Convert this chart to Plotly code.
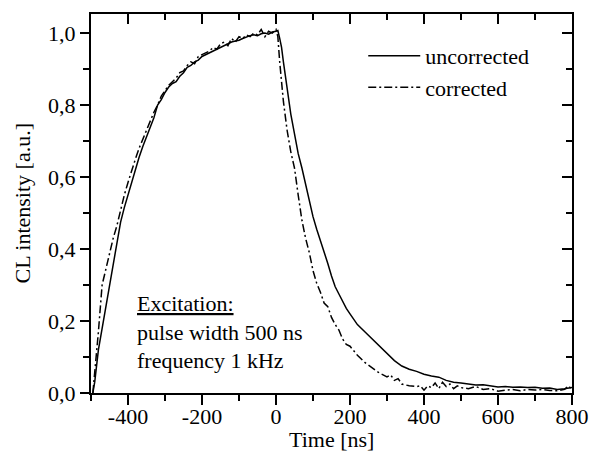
import plotly.graph_objects as go

# ---- data ----
t_unc = [-495, -490, -480, -470, -460, -450, -440, -430, -420, -410, -400, -390, -380, -370,
         -360, -350, -340, -330, -320, -310, -300, -290, -280, -270, -260, -250, -240, -230,
         -220, -210, -200, -190, -180, -170, -160, -150, -140, -130, -120, -110, -100, -90,
         -80, -70, -60, -50, -40, -30, -20, -10, 0, 5, 10, 15, 20, 30, 40, 50, 60, 70, 80, 90,
         100, 110, 120, 130, 140, 150, 160, 170, 180, 190, 200, 220, 240, 260, 280, 300, 320,
         340, 360, 380, 400, 420, 440, 460, 480, 500, 520, 540, 560, 580, 600, 620, 640, 660,
         680, 700, 720, 740, 760, 780, 800]
i_unc = [0.0, 0.03, 0.12, 0.18, 0.235, 0.30, 0.36, 0.42, 0.475, 0.515, 0.55, 0.59, 0.625, 0.655,
         0.685, 0.71, 0.74, 0.765, 0.80, 0.815, 0.835, 0.85, 0.86, 0.865, 0.88, 0.89, 0.905, 0.91,
         0.92, 0.925, 0.935, 0.94, 0.945, 0.952, 0.955, 0.962, 0.965, 0.97, 0.975, 0.978, 0.98, 0.985,
         0.99, 0.993, 0.995, 0.993, 0.998, 1.0, 0.997, 1.003, 1.005, 1.007, 0.985, 0.96, 0.92, 0.84,
         0.775, 0.72, 0.665, 0.625, 0.58, 0.54, 0.49, 0.455, 0.425, 0.39, 0.36, 0.325, 0.295, 0.275,
         0.255, 0.235, 0.22, 0.19, 0.17, 0.15, 0.128, 0.108, 0.09, 0.075, 0.066, 0.06, 0.052, 0.047,
         0.044, 0.035, 0.03, 0.028, 0.025, 0.022, 0.023, 0.02, 0.017, 0.018, 0.016, 0.017, 0.015,
         0.016, 0.013, 0.014, 0.01, 0.012, 0.015]

t_cor = [-495, -490, -480, -470, -460, -450, -440, -430, -420, -410, -400, -390, -380, -370,
         -360, -350, -340, -330, -320, -310, -300, -290, -280, -270, -260, -250, -240, -230,
         -220, -210, -200, -190, -180, -170, -160, -150, -140, -130, -120, -110, -100, -90,
         -80, -70, -60, -50, -40, -30, -20, -10, 0, 5, 10, 20, 30, 40, 50, 60, 70, 80, 90, 100,
         110, 120, 130, 140, 150, 160, 170, 180, 190, 200, 220, 240, 260, 280, 300, 310, 320, 330,
         340, 360, 380, 390, 400, 410, 420, 430, 440, 450, 460, 470, 480, 490, 500, 520, 540, 560,
         580, 600, 620, 640, 660, 680, 700, 720, 740, 760, 780, 790, 800]
i_cor = [0.0, 0.05, 0.17, 0.30, 0.345, 0.39, 0.43, 0.465, 0.51, 0.55, 0.585, 0.62, 0.65, 0.68,
         0.705, 0.735, 0.76, 0.78, 0.80, 0.825, 0.84, 0.855, 0.865, 0.875, 0.89, 0.895, 0.91, 0.92,
         0.915, 0.935, 0.94, 0.945, 0.95, 0.96, 0.955, 0.97, 0.975, 0.965, 0.985, 0.975, 0.99, 0.985,
         0.995, 0.99, 1.0, 0.995, 1.01, 0.99, 1.005, 1.0, 1.01, 0.99, 0.92, 0.81, 0.73, 0.67, 0.625,
         0.55, 0.48, 0.43, 0.39, 0.34, 0.305, 0.28, 0.25, 0.24, 0.21, 0.19, 0.175, 0.15, 0.135, 0.13,
         0.105, 0.085, 0.07, 0.055, 0.045, 0.05, 0.035, 0.04, 0.025, 0.02, 0.018, 0.02, 0.008, 0.02,
         0.015, 0.028, 0.012, 0.03, 0.018, 0.025, 0.012, 0.02, 0.015, 0.012, 0.018, 0.01, 0.012,
         0.005, 0.008, 0.01, 0.006, 0.01, 0.008, 0.01, 0.007, 0.006, 0.01, 0.02, 0.01]

x_ticks = [-400, -200, 0, 200, 400, 600, 800]
x_labels = ["-400", "-200", "0", "200", "400", "600", "800"]
y_ticks = [0.0, 0.2, 0.4, 0.6, 0.8, 1.0]
y_labels = ["0,0", "0,2", "0,4", "0,6", "0,8", "1,0"]

FONT = "Liberation Serif, Times New Roman, serif"
FS = 22
XR = [-500, 800]
YR = [0, 1.053]

fig = go.Figure()
fig.add_trace(go.Scatter(x=t_unc, y=i_unc, mode="lines", name="uncorrected",
                         line=dict(color="black", width=1.5)))
fig.add_trace(go.Scatter(x=t_cor, y=i_cor, mode="lines", name="corrected",
                         line=dict(color="black", width=1.5, dash="8px,3px,2px,3px")))

axis_common = dict(showline=True, linecolor="black", linewidth=2, showgrid=False,
                   zeroline=False, tickcolor="black", tickwidth=1.5, automargin=False,
                   tickfont=dict(family=FONT, size=FS, color="black"))

fig.update_layout(
    width=589, height=453,
    margin=dict(l=91, r=17, t=14, b=60),
    paper_bgcolor="white", plot_bgcolor="white",
    font=dict(family=FONT, size=FS, color="black"),
    # bottom axis: labels only (ticks drawn by xaxis3 so the labels can sit closer)
    xaxis=dict(range=XR, tickvals=x_ticks, ticktext=x_labels, ticks="", ticklabelstandoff=3,
               **axis_common),
    xaxis3=dict(range=XR, overlaying="x", side="bottom", anchor="y", tickvals=x_ticks,
                showticklabels=False, ticks="outside", ticklen=10,
                minor=dict(dtick=100, tick0=0, ticks="outside", ticklen=6, tickcolor="black", tickwidth=1.5),
                **axis_common),
    yaxis=dict(range=YR, tickvals=y_ticks, ticktext=y_labels, ticks="outside", ticklen=9,
               minor=dict(dtick=0.1, tick0=0, ticks="outside", ticklen=6, tickcolor="black", tickwidth=1.5),
               **axis_common),
    xaxis2=dict(range=XR, overlaying="x", side="top", tickvals=x_ticks, showticklabels=False,
                ticks="inside", ticklen=10,
                minor=dict(dtick=100, tick0=0, ticks="inside", ticklen=6, tickcolor="black", tickwidth=1.5),
                **axis_common),
    yaxis2=dict(range=YR, overlaying="y", side="right", tickvals=y_ticks, showticklabels=False,
                ticks="inside", ticklen=10,
                minor=dict(dtick=0.1, tick0=0, ticks="inside", ticklen=6, tickcolor="black", tickwidth=1.5),
                **axis_common),
    legend=dict(x=0.566, y=0.945, xanchor="left", yanchor="top", bgcolor="rgba(0,0,0,0)",
                font=dict(family=FONT, size=FS), itemwidth=52),
    annotations=[
        dict(x=-380, y=0.17, xref="x", yref="y", xanchor="left", yanchor="middle",
             align="left", showarrow=False,
             text="<u>Excitation:</u><br>pulse width 500 ns<br>frequency 1 kHz",
             font=dict(family=FONT, size=FS, color="black")),
        dict(x=0.5, y=-(453 - 393) / 379, xref="paper", yref="paper", xanchor="center",
             yanchor="bottom", showarrow=False, text="Time [ns]", borderpad=0,
             font=dict(family=FONT, size=FS, color="black")),
        dict(x=(22 - 91) / 481, y=0.5, xref="paper", yref="paper", xanchor="center",
             yanchor="middle", showarrow=False, text="CL intensity [a.u.]", textangle=-90,
             font=dict(family=FONT, size=FS, color="black")),
    ],
)
# invisible traces so the extra tick axes are drawn
fig.add_trace(go.Scatter(x=[XR[0]], y=[YR[0]], xaxis="x2", yaxis="y2", mode="markers",
                         marker=dict(opacity=0), showlegend=False, hoverinfo="skip"))
fig.add_trace(go.Scatter(x=[XR[0]], y=[YR[0]], xaxis="x3", yaxis="y", mode="markers",
                         marker=dict(opacity=0), showlegend=False, hoverinfo="skip"))

fig.write_html("out.html", config={"displayModeBar": False},
               post_script="document.body.style.margin='0';document.body.style.overflow='hidden';")
